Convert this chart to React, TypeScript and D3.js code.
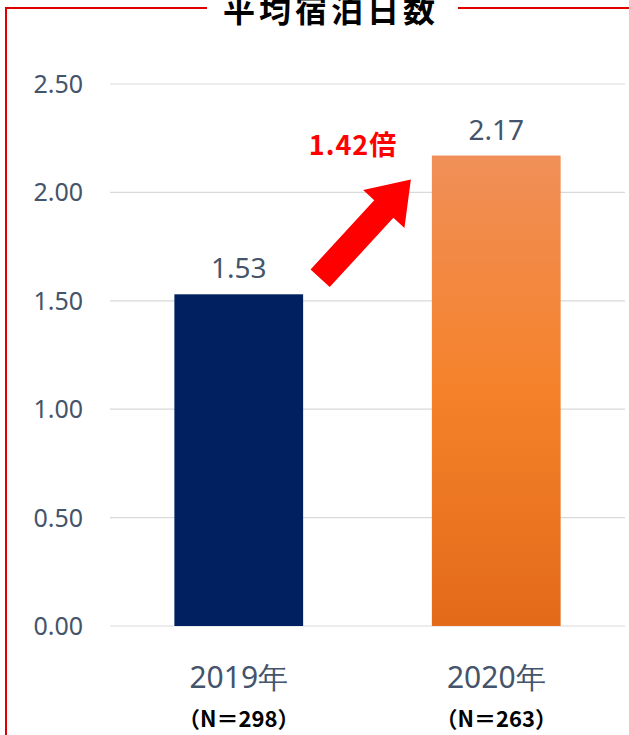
import React from "react";
import * as d3 from "d3";

const categories = ["2019年", "2020年"];
const sampleLabels = ["（N＝298）", "（N＝263）"];
const values = [1.53, 2.17];
const valueLabels = ["1.53", "2.17"];
const yTicks = [0, 0.5, 1, 1.5, 2, 2.5];
const title = "平均宿泊日数";
const ratioLabel = "1.42倍";

export default function App() {
  const W = 629;
  const H = 735;
  const x = d3.scaleBand<string>().domain(categories).range([110, 625]).paddingInner(0.5).paddingOuter(0.25);
  const y = d3.scaleLinear().domain([0, 2.5]).range([626, 84]);
  const grid = "#D9D9D9";
  const axisText = "#44546A";
  const sans = "'Noto Sans', 'Open Sans', sans-serif";
  const jp = "'Noto Sans CJK JP', sans-serif";

  const x0 = (x(categories[0]) as number) + x.bandwidth();
  const x1 = x(categories[1]) as number;
  const ax0 = x0 + 17;
  const ay0 = y(values[0]) - 16;
  const ax1 = x1 - 21;
  const ay1 = y(values[1]) + 24;
  const dx = ax1 - ax0;
  const dy = ay1 - ay0;
  const len = Math.hypot(dx, dy);
  const ux = dx / len;
  const uy = dy / len;
  const px = -uy;
  const py = ux;
  const shaftW = 13;
  const headW = 28;
  const headL = 40;
  const bx = ax1 - ux * headL;
  const by = ay1 - uy * headL;
  const arrowPts = [
    [ax0 + px * shaftW, ay0 + py * shaftW],
    [bx + px * shaftW, by + py * shaftW],
    [bx + px * headW, by + py * headW],
    [ax1, ay1],
    [bx - px * headW, by - py * headW],
    [bx - px * shaftW, by - py * shaftW],
    [ax0 - px * shaftW, ay0 - py * shaftW],
  ];
  const arrowPath = d3.line()(arrowPts as [number, number][]) + "Z";

  const barColors = ["#002060", "url(#orangeGrad)"];

  return (
    <svg width={W} height={H} style={{ position: "absolute", left: 0, top: 0, background: "#fff" }}>
      <defs>
        <linearGradient id="orangeGrad" x1="0" y1="0" x2="0" y2="1">
          <stop offset="0%" stopColor="#F08F58" />
          <stop offset="50%" stopColor="#F5822A" />
          <stop offset="100%" stopColor="#E26A19" />
        </linearGradient>
      </defs>
      <rect x={0} y={0} width={W} height={H} fill="#fff" />
      <line x1={6} y1={8} x2={6} y2={H} stroke="#E00000" strokeWidth={2} />
      <line x1={5} y1={8} x2={207} y2={8} stroke="#E00000" strokeWidth={2} />
      <line x1={458} y1={8} x2={W} y2={8} stroke="#E00000" strokeWidth={2} />
      <text x={331} y={22} textAnchor="middle" fontFamily={jp} fontWeight={700} fontSize={32} letterSpacing={4} fill="#000">
        {title}
      </text>
      {yTicks.map((t) => (
        <g key={t}>
          <line x1={110} x2={625} y1={y(t)} y2={y(t)} stroke={grid} strokeWidth={1.2} />
          <text x={83} y={y(t)} dy="0.36em" textAnchor="end" fontFamily={sans} fontSize={25} fill={axisText}>
            {d3.format(".2f")(t)}
          </text>
        </g>
      ))}
      {categories.map((c, i) => (
        <g key={c}>
          <rect x={x(c)} y={y(values[i])} width={x.bandwidth()} height={y(0) - y(values[i])} fill={barColors[i]} />
          <text x={(x(c) as number) + x.bandwidth() / 2} y={y(values[i]) - 16} textAnchor="middle" fontFamily={sans} fontSize={28} fill={axisText}>
            {valueLabels[i]}
          </text>
          <text x={(x(c) as number) + x.bandwidth() / 2} y={688} textAnchor="middle" fontFamily={sans} fontSize={30} fill={axisText}>
            {c}
          </text>
          <text x={(x(c) as number) + x.bandwidth() / 2} y={727} textAnchor="middle" fontFamily={jp} fontWeight={700} fontSize={22} fill="#000">
            {sampleLabels[i]}
          </text>
        </g>
      ))}
      <path d={arrowPath} fill="#FF0000" />
      <text x={353} y={155} textAnchor="middle" fontFamily={jp} fontWeight={700} fontSize={27} letterSpacing={1} fill="#FF0000">
        {ratioLabel}
      </text>
    </svg>
  );
}
